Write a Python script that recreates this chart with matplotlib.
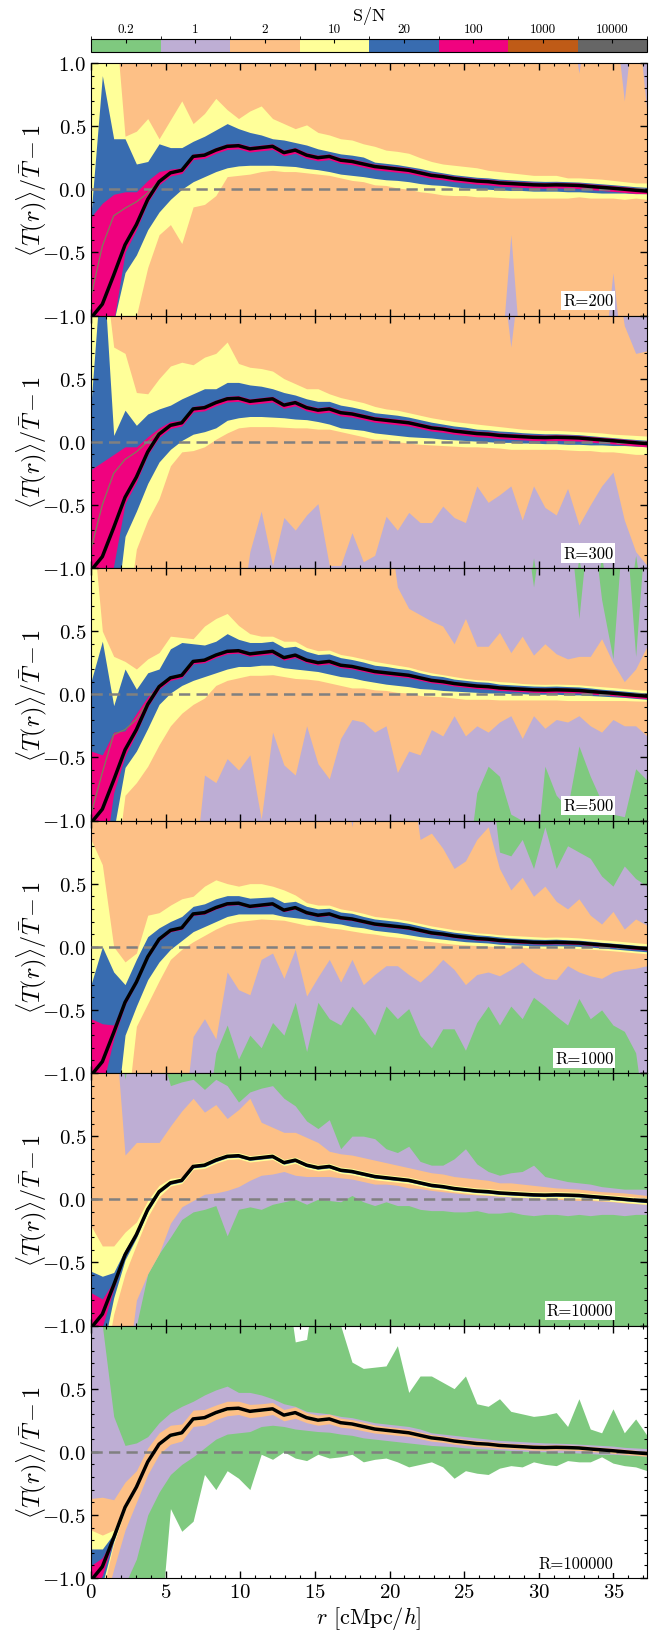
import numpy as np
import matplotlib
matplotlib.use("Agg")
import matplotlib.pyplot as plt
from matplotlib.colors import ListedColormap, BoundaryNorm
from matplotlib.cm import ScalarMappable
from matplotlib.ticker import MultipleLocator, FuncFormatter

plt.rcParams["font.family"] = "serif"
plt.rcParams["font.serif"] = ["cmr10"]
plt.rcParams["mathtext.fontset"] = "cm"
plt.rcParams["axes.formatter.use_mathtext"] = True

# radial bins [cMpc/h]
r = np.linspace(0.0, 37.25, 50)

# true mean profile (black line)
mean_curve = np.array([
    -1.02, -0.91, -0.68, -0.44, -0.28, -0.08, 0.06, 0.13, 0.15, 0.26,
    0.27, 0.31, 0.34, 0.345, 0.32, 0.33, 0.34, 0.29, 0.31, 0.27,
    0.25, 0.26, 0.23, 0.22, 0.20, 0.18, 0.17, 0.16, 0.15, 0.13,
    0.11, 0.10, 0.085, 0.075, 0.065, 0.06, 0.05, 0.045, 0.04, 0.035,
    0.033, 0.035, 0.033, 0.03, 0.022, 0.015, 0.008, 0.0, -0.008, -0.015])

sn_labels = ["0.2", "1", "2", "10", "20", "100", "1000", "10000"]
sn_colors = ["#7fc97f", "#beaed4", "#fdc086", "#ffff99",
             "#386cb0", "#f0027f", "#bf5b17", "#666666"]
panel_labels = ["R=200", "R=300", "R=500", "R=1000", "R=10000", "R=100000"]

FULL_UP = [1.5] * 50
FULL_LOW = [-1.5] * 50

########### R=200 #########
p1_peach_up = [1.5] * 43 + [0.92, 1.5, 1.5, 1.5, 0.70, 1.5, 0.60]
p1_peach_low = [-1.5] * 37 + [-0.36] + [-1.5] * 8 + [-0.66, -1.5, -1.5, -1.5]
p1_yel_up = [
    1.5, 1.5, 1.5, 0.42, 0.46, 0.56, 0.40, 0.55, 0.70, 0.52,
    0.60, 0.72, 0.63, 0.56, 0.62, 0.66, 0.56, 0.52, 0.48, 0.51,
    0.45, 0.43, 0.40, 0.39, 0.36, 0.34, 0.31, 0.30, 0.285, 0.25,
    0.22, 0.20, 0.19, 0.18, 0.17, 0.15, 0.14, 0.13, 0.12, 0.11,
    0.11, 0.11, 0.09, 0.09, 0.085, 0.08, 0.07, 0.06, 0.05, 0.05]
p1_yel_low = [
    -1.5, -1.5, -1.5, -1.5, -1.0, -0.62, -0.36, -0.28, -0.43, -0.14,
    -0.12, -0.05, 0.10, 0.11, 0.12, 0.14, 0.15, 0.14, 0.14, 0.13,
    0.12, 0.11, 0.09, 0.07, 0.06, 0.035, 0.03, 0.01, 0.0, -0.02,
    -0.03, -0.045, -0.05, -0.05, -0.06, -0.06, -0.065, -0.07, -0.07, -0.07,
    -0.07, -0.07, -0.07, -0.06, -0.07, -0.07, -0.07, -0.08, -0.07, -0.08]
p1_blue_up = [
    -0.2, 0.9, 0.40, 0.40, 0.20, 0.22, 0.36, 0.33, 0.33, 0.38,
    0.42, 0.47, 0.52, 0.48, 0.45, 0.43, 0.40, 0.39, 0.37, 0.35,
    0.32, 0.30, 0.28, 0.27, 0.255, 0.215, 0.205, 0.195, 0.18, 0.165,
    0.145, 0.13, 0.115, 0.105, 0.095, 0.09, 0.08, 0.075, 0.07, 0.065,
    0.062, 0.063, 0.06, 0.057, 0.05, 0.043, 0.036, 0.028, 0.02, 0.015]
p1_blue_low = [
    -1.5, -1.5, -1.05, -0.66, -0.52, -0.32, -0.18, -0.08, 0.0, 0.06,
    0.10, 0.14, 0.17, 0.185, 0.19, 0.19, 0.19, 0.185, 0.18, 0.165,
    0.155, 0.14, 0.12, 0.11, 0.10, 0.086, 0.075, 0.07, 0.06, 0.045,
    0.035, 0.03, 0.02, 0.01, 0.007, 0.0, -0.005, -0.01, -0.01, -0.015,
    -0.015, -0.015, -0.02, -0.02, -0.025, -0.03, -0.03, -0.03, -0.035, -0.035]
p1_mag_dup = [0.80, 0.80, 0.64, 0.42, 0.26, 0.15, 0.08, 0.03, 0.02] + [0.02] * 41
p1_mag_dlow = [0.5, 0.5, 0.4, 0.06, 0.04] + [0.025] * 45
p1_olive_head = [-0.85, -0.45, -0.21, -0.15, -0.10, -0.03, 0.07, 0.13, 0.15]

########### R=300 #########
p2_lav_low = [-1.5] * 39 + [-0.92] + [-1.5] * 3 + [-0.92, -1.5, -0.90, -1.5, -1.5, -0.90, -1.5]
p2_peach_up = [1.5] * 37 + [0.75] + [1.5] * 9 + [0.92, 0.70, 0.72]
p2_peach_low = [
    -1.5, -1.5, -1.5, -1.5, -1.5, -1.5, -1.5, -1.5, -1.5, -1.5,
    -1.5, -1.5, -1.5, -1.5, -0.87, -0.55, -0.98, -0.60, -0.70, -0.58,
    -0.49, -0.98, -0.98, -0.72, -0.95, -0.90, -0.59, -0.70, -0.56, -0.64,
    -0.64, -0.51, -0.60, -0.64, -0.35, -0.48, -0.42, -0.35, -0.62, -0.35,
    -0.52, -0.58, -0.37, -0.66, -0.50, -0.35, -0.24, -0.62, -0.87, -0.98]
p2_yel_up = [
    1.5, 1.5, 0.75, 0.70, 0.39, 0.38, 0.50, 0.60, 0.63, 0.61,
    0.67, 0.70, 0.79, 0.62, 0.59, 0.58, 0.56, 0.50, 0.46, 0.42,
    0.42, 0.38, 0.35, 0.33, 0.31, 0.28, 0.26, 0.25, 0.23, 0.21,
    0.19, 0.175, 0.16, 0.15, 0.14, 0.13, 0.12, 0.11, 0.10, 0.095,
    0.09, 0.09, 0.085, 0.08, 0.075, 0.07, 0.06, 0.055, 0.05, 0.045]
p2_yel_low = [
    -1.5, -1.5, -1.5, -1.5, -0.85, -0.62, -0.45, -0.19, -0.08, -0.07,
    -0.04, 0.02, 0.07, 0.11, 0.12, 0.12, 0.12, 0.115, 0.11, 0.11,
    0.10, 0.10, 0.08, 0.06, 0.04, 0.02, 0.02, 0.0, -0.01, -0.02,
    -0.025, -0.03, -0.035, -0.04, -0.04, -0.045, -0.05, -0.06, -0.06, -0.06,
    -0.06, -0.06, -0.065, -0.07, -0.07, -0.08, -0.08, -0.09, -0.10, -0.10]
p2_blue_up = [
    0.3, 1.5, 0.05, 0.25, 0.13, 0.22, 0.26, 0.29, 0.34, 0.38,
    0.42, 0.42, 0.47, 0.47, 0.45, 0.44, 0.42, 0.39, 0.37, 0.34,
    0.32, 0.32, 0.29, 0.275, 0.255, 0.23, 0.22, 0.21, 0.195, 0.175,
    0.155, 0.14, 0.125, 0.115, 0.10, 0.095, 0.085, 0.08, 0.072, 0.067,
    0.063, 0.063, 0.06, 0.056, 0.048, 0.04, 0.033, 0.025, 0.018, 0.012]
p2_blue_low = [
    -1.5, -1.5, -1.5, -0.75, -0.55, -0.33, -0.16, -0.06, 0.01, 0.06,
    0.08, 0.11, 0.17, 0.19, 0.20, 0.20, 0.195, 0.19, 0.18, 0.175,
    0.16, 0.14, 0.11, 0.10, 0.09, 0.07, 0.06, 0.05, 0.04, 0.035,
    0.03, 0.02, 0.015, 0.01, 0.005, 0.0, -0.005, -0.005, -0.01, -0.01,
    -0.015, -0.015, -0.02, -0.02, -0.025, -0.025, -0.03, -0.03, -0.035, -0.04]
p2_mag_dup = [0.80, 0.75, 0.58, 0.40, 0.24, 0.12, 0.05, 0.03] + [0.02] * 42
p2_mag_dlow = [0.5, 0.5, 0.3, 0.05, 0.04] + [0.025] * 45
p2_olive_head = [-0.85, -0.50, -0.25, -0.14, -0.08, 0.0, 0.08, 0.13, 0.16]

########### R=500 #########
p3_lav_up = [1.5] * 39 + [0.85, 1.5, 1.5, 1.5, 0.60, 1.5, 0.75, 0.28, 1.5, 0.30, 1.5]
p3_lav_low = [-1.5] * 34 + [
    -0.78, -0.57, -0.65, -0.95, -1.0, -1.5, -0.57, -0.80,
    -0.90, -0.41, -0.65, -0.85, -0.95, -0.97, -0.59, -0.68]
p3_peach_up = [1.5] * 27 + [
    0.85, 0.68, 0.63, 0.58, 0.54, 0.40, 0.60, 0.38, 0.38, 0.49, 0.33, 0.46,
    0.31, 0.40, 0.32, 0.28, 0.30, 0.30, 0.44, 0.25, 0.10, 0.20, 0.38]
p3_peach_low = [
    -1.5, -1.5, -1.5, -1.5, -1.5, -1.5, -1.5, -1.5, -1.5, -1.5,
    -0.64, -0.70, -0.51, -0.60, -0.48, -0.99, -0.30, -0.56, -0.64, -0.25,
    -0.55, -0.67, -0.35, -0.20, -0.22, -0.30, -0.25, -0.62, -0.45, -0.48,
    -0.28, -0.33, -0.17, -0.33, -0.25, -0.30, -0.22, -0.17, -0.35, -0.17,
    -0.27, -0.20, -0.22, -0.17, -0.25, -0.30, -0.20, -0.25, -0.25, -0.33]
p3_yel_dup = [
    2.5, 1.41, 0.98, 0.70, 0.48, 0.36, 0.27, 0.33, 0.30, 0.18,
    0.27, 0.29, 0.30, 0.20, 0.16, 0.13, 0.12, 0.13, 0.11, 0.10,
    0.095, 0.09, 0.085, 0.08, 0.08, 0.08, 0.075, 0.07, 0.065, 0.06,
    0.06, 0.055, 0.055, 0.05, 0.05, 0.05, 0.05, 0.05, 0.045, 0.045,
    0.045, 0.045, 0.045, 0.045, 0.045, 0.045, 0.045, 0.045, 0.045, 0.045]
p3_yel_dlow = [
    1.0, 1.0, 1.0, 0.36, 0.42, 0.49, 0.46, 0.38, 0.30, 0.34,
    0.30, 0.24, 0.23, 0.215, 0.17, 0.18, 0.185, 0.15, 0.185, 0.15,
    0.14, 0.17, 0.16, 0.17, 0.15, 0.145, 0.14, 0.145, 0.14, 0.14,
    0.125, 0.12, 0.115, 0.115, 0.105, 0.10, 0.095, 0.09, 0.085, 0.08,
    0.078, 0.08, 0.083, 0.08, 0.072, 0.065, 0.058, 0.05, 0.045, 0.04]
p3_blue_dup = [
    1.12, 1.33, 0.59, 0.64, 0.32, 0.25, 0.14, 0.23, 0.26, 0.14,
    0.12, 0.11, 0.14, 0.09, 0.09, 0.08, 0.08, 0.08, 0.07, 0.07,
    0.065, 0.06, 0.06, 0.055, 0.055, 0.05, 0.05, 0.045, 0.045, 0.04,
    0.04, 0.04, 0.035, 0.035, 0.035, 0.035, 0.03, 0.03, 0.03, 0.03,
    0.03, 0.03, 0.028, 0.028, 0.028, 0.025, 0.025, 0.025, 0.025, 0.025]
p3_blue_dlow = [
    1.0, 1.0, 0.40, 0.14, 0.17, 0.19, 0.14, 0.12, 0.08, 0.15,
    0.13, 0.14, 0.14, 0.125, 0.10, 0.10, 0.11, 0.08, 0.11, 0.08,
    0.07, 0.10, 0.09, 0.09, 0.09, 0.085, 0.09, 0.09, 0.09, 0.085,
    0.07, 0.07, 0.06, 0.055, 0.05, 0.05, 0.04, 0.04, 0.035, 0.035,
    0.033, 0.035, 0.038, 0.035, 0.032, 0.03, 0.028, 0.025, 0.025, 0.025]
p3_mag_dup = [0.57, 0.43, 0.38, 0.15, 0.13, 0.06, 0.025] + [0.015] * 43
p3_mag_dlow = [0.5, 0.5, 0.1, 0.05, 0.03] + [0.02] * 45
p3_olive_head = [-0.95, -0.62, -0.32, -0.28, -0.20, -0.06, 0.07]

########### R=1000 #########
p4_lav_up = [1.5] * 36 + [0.75, 0.72, 0.85, 0.62, 0.95, 0.62, 0.80,
                          0.75, 0.70, 0.56, 0.48, 0.64, 0.54, 0.48]
p4_lav_low = [
    -1.5, -1.5, -1.5, -1.5, -1.5, -1.5, -1.5, -1.5, -1.5, -1.5,
    -1.5, -0.84, -0.62, -0.89, -0.70, -0.80, -0.60, -0.70, -0.44, -0.83,
    -0.44, -0.57, -0.62, -0.47, -0.57, -0.70, -0.47, -0.57, -0.49, -0.70,
    -0.80, -0.65, -0.65, -0.82, -0.60, -0.47, -0.62, -0.47, -0.57, -0.40,
    -0.47, -0.55, -0.62, -0.41, -0.57, -0.50, -0.62, -0.67, -0.84, -1.5]
p4_peach_up = [1.5] * 23 + [0.95] + [1.5] * 5 + [
    0.85, 0.90, 0.78, 0.62, 0.68, 0.85, 0.95, 0.62, 0.45, 0.55, 0.40,
    0.48, 0.36, 0.30, 0.38, 0.25, 0.18, 0.28, 0.14, 0.22, 0.17]
p4_peach_low = [
    -1.5, -1.5, -1.5, -1.5, -1.5, -1.5, -1.5, -1.5, -1.5, -0.71,
    -0.57, -0.73, -0.20, -0.34, -0.38, -0.10, -0.05, -0.25, -0.02, -0.39,
    -0.24, -0.10, -0.28, -0.10, -0.30, -0.22, -0.15, -0.15, -0.22, -0.28,
    -0.20, -0.10, -0.18, -0.30, -0.22, -0.20, -0.23, -0.18, -0.12, -0.20,
    -0.25, -0.26, -0.15, -0.20, -0.23, -0.25, -0.20, -0.18, -0.17, -0.15]
p4_yel_dup = [
    1.87, 1.56, 0.68, 0.32, 0.23, 0.33, 0.21, 0.20, 0.23, 0.14,
    0.21, 0.22, 0.16, 0.135, 0.18, 0.17, 0.14, 0.16, 0.10, 0.08,
    0.08, 0.07, 0.07, 0.065, 0.065, 0.06, 0.06, 0.06, 0.055, 0.055,
    0.055, 0.05, 0.05, 0.05, 0.045, 0.045, 0.045, 0.045, 0.045, 0.045,
    0.042, 0.042, 0.042, 0.04, 0.04, 0.04, 0.04, 0.04, 0.04, 0.04]
p4_yel_dlow = [
    1.0, 1.0, 1.0, 1.0, 0.35, 0.37, 0.33, 0.23, 0.17, 0.22,
    0.18, 0.17, 0.16, 0.145, 0.11, 0.11, 0.125, 0.08, 0.12, 0.10,
    0.08, 0.11, 0.09, 0.095, 0.09, 0.08, 0.085, 0.085, 0.085, 0.08,
    0.07, 0.07, 0.065, 0.06, 0.055, 0.055, 0.05, 0.05, 0.045, 0.045,
    0.045, 0.045, 0.045, 0.045, 0.042, 0.04, 0.04, 0.04, 0.04, 0.04]
p4_blue_dup = [
    0.72, 0.91, 0.48, 0.14, 0.18, 0.16, 0.09, 0.07, 0.09, 0.06,
    0.07, 0.07, 0.065, 0.06, 0.065, 0.06, 0.055, 0.06, 0.05, 0.05,
    0.05, 0.045, 0.045, 0.045, 0.04, 0.04, 0.04, 0.04, 0.035, 0.035,
    0.035, 0.03, 0.03, 0.03, 0.03, 0.028, 0.028, 0.025, 0.025, 0.025,
    0.025, 0.025, 0.022, 0.022, 0.022, 0.02, 0.02, 0.02, 0.02, 0.02]
p4_blue_dlow = [
    1.0, 1.0, 1.0, 0.26, 0.19, 0.18, 0.18, 0.15, 0.10, 0.14,
    0.11, 0.11, 0.10, 0.085, 0.06, 0.07, 0.08, 0.05, 0.08, 0.05,
    0.05, 0.07, 0.05, 0.06, 0.05, 0.05, 0.05, 0.05, 0.055, 0.05,
    0.04, 0.04, 0.035, 0.035, 0.03, 0.03, 0.03, 0.03, 0.028, 0.028,
    0.027, 0.027, 0.027, 0.027, 0.025, 0.025, 0.025, 0.025, 0.025, 0.025]
p4_mag_dup = [0.45, 0.30, 0.06, 0.03] + [0.012] * 46
p4_mag_dlow = [0.5, 0.2, 0.05, 0.02] + [0.012] * 46

########### R=10000 #########
p5_lav_up = [
    1.5, 1.5, 1.5, 0.95, 1.5, 1.5, 1.2, 0.90, 0.93, 0.95,
    0.87, 0.95, 0.90, 0.77, 0.85, 0.88, 0.90, 0.80, 0.74, 0.62,
    0.56, 0.63, 0.40, 0.50, 0.50, 0.48, 0.40, 0.37, 0.42, 0.30,
    0.27, 0.27, 0.32, 0.40, 0.28, 0.22, 0.19, 0.21, 0.22, 0.27,
    0.18, 0.16, 0.14, 0.13, 0.12, 0.10, 0.09, 0.08, 0.08, 0.08]
p5_lav_low = [
    -1.5, -1.5, -1.5, -1.5, -1.0, -0.59, -0.43, -0.30, -0.16, -0.10,
    -0.08, -0.05, -0.29, -0.08, -0.06, -0.08, -0.04, -0.02, 0.0, -0.04,
    0.0, -0.01, -0.02, 0.03, -0.02, -0.05, -0.02, -0.05, -0.05, -0.08,
    -0.09, -0.09, -0.10, -0.10, -0.09, -0.11, -0.11, -0.10, -0.12, -0.13,
    -0.12, -0.12, -0.13, -0.12, -0.13, -0.12, -0.12, -0.13, -0.12, -0.12]
p5_peach_up = [
    1.5, 1.5, 1.5, 0.35, 0.45, 0.45, 0.45, 0.58, 0.70, 0.80,
    0.69, 0.75, 0.64, 0.71, 0.80, 0.61, 0.57, 0.53, 0.53, 0.49,
    0.45, 0.38, 0.36, 0.35, 0.33, 0.31, 0.29, 0.27, 0.25, 0.23,
    0.21, 0.20, 0.18, 0.17, 0.16, 0.15, 0.13, 0.13, 0.12, 0.11,
    0.10, 0.09, 0.085, 0.08, 0.07, 0.06, 0.055, 0.05, 0.04, 0.03]
p5_peach_low = [
    -1.5, -1.5, -1.5, -1.5, -0.80, -0.62, -0.45, -0.19, -0.06, -0.01,
    0.04, 0.05, 0.07, 0.10, 0.15, 0.19, 0.20, 0.22, 0.19, 0.18,
    0.18, 0.18, 0.17, 0.16, 0.14, 0.12, 0.12, 0.11, 0.09, 0.085,
    0.07, 0.06, 0.05, 0.04, 0.035, 0.03, 0.025, 0.02, 0.015, 0.01,
    0.0, 0.0, -0.005, -0.01, -0.01, -0.015, -0.02, -0.03, -0.035, -0.04]
p5_yel_dup = [0.81, 0.54, 0.31, 0.18, 0.10, 0.07, 0.05, 0.035] + [0.025] * 42
p5_yel_dlow = [0.5, 0.5, 0.23, 0.15, 0.08, 0.06, 0.04] + [0.025] * 43
p5_blue_dup = [0.45, 0.30, 0.10, 0.04, 0.025, 0.02] + [0.012] * 44
p5_blue_dlow = [0.5, 0.3, 0.10, 0.04, 0.025, 0.02] + [0.012] * 44
p5_mag_dup = [0.28, 0.12, 0.03] + [0.004] * 47
p5_mag_dlow = [0.2, 0.1, 0.03] + [0.004] * 47

########### R=100000 #########
p6_green_up = [
    1.5, 1.5, 1.5, 1.5, 1.5, 1.5, 1.5, 1.5, 1.5, 1.5,
    1.5, 1.5, 1.5, 1.5, 1.5, 1.5, 1.5, 1.5, 0.87, 0.89,
    1.5, 1.5, 1.0, 0.71, 0.66, 0.67, 0.68, 0.84, 0.47, 0.60,
    0.60, 0.55, 0.50, 0.60, 0.38, 0.36, 0.42, 0.32, 0.30, 0.28,
    0.29, 0.31, 0.20, 0.42, 0.18, 0.15, 0.34, 0.15, 0.26, 0.13]
p6_green_low = [
    -1.5, -1.5, -1.5, -1.5, -1.5, -1.5, -1.5, -0.45, -0.63, -0.55,
    -0.18, -0.30, -0.15, -0.21, -0.30, -0.02, -0.06, 0.0, -0.05, -0.07,
    -0.02, -0.05, -0.04, -0.02, -0.08, -0.06, -0.05, -0.08, -0.12, -0.10,
    -0.08, -0.12, -0.21, -0.15, -0.17, -0.18, -0.13, -0.11, -0.12, -0.08,
    -0.10, -0.11, -0.07, -0.08, -0.08, -0.04, -0.09, -0.11, -0.12, -0.15]
p6_lav_up = [
    1.5, 1.0, 0.28, 0.05, 0.07, 0.12, 0.23, 0.31, 0.36, 0.40,
    0.45, 0.49, 0.52, 0.47, 0.47, 0.45, 0.42, 0.38, 0.36, 0.32,
    0.31, 0.30, 0.28, 0.27, 0.25, 0.23, 0.22, 0.21, 0.20, 0.18,
    0.15, 0.14, 0.13, 0.12, 0.11, 0.10, 0.09, 0.085, 0.08, 0.075,
    0.07, 0.068, 0.065, 0.06, 0.055, 0.05, 0.045, 0.035, 0.03, 0.025]
p6_lav_low = [
    -1.5, -1.5, -1.5, -1.05, -0.85, -0.50, -0.32, -0.18, -0.10, -0.04,
    0.03, 0.10, 0.14, 0.15, 0.16, 0.20, 0.21, 0.20, 0.18, 0.17,
    0.16, 0.155, 0.14, 0.13, 0.11, 0.10, 0.09, 0.08, 0.07, 0.06,
    0.05, 0.045, 0.04, 0.03, 0.025, 0.02, 0.015, 0.01, 0.005, 0.0,
    0.0, -0.005, -0.005, -0.01, -0.015, -0.02, -0.02, -0.025, -0.03, -0.035]
p6_peach_dup = [
    0.65, 0.55, 0.30, 0.20, 0.13, 0.11, 0.09, 0.08, 0.07, 0.07,
    0.065, 0.06, 0.06, 0.055, 0.055, 0.05, 0.05, 0.045, 0.045, 0.04,
    0.04, 0.038, 0.036, 0.035, 0.034, 0.032, 0.03, 0.03, 0.028, 0.027,
    0.026, 0.025, 0.025, 0.024, 0.024, 0.023, 0.023, 0.022, 0.022, 0.022,
    0.021, 0.021, 0.02, 0.02, 0.02, 0.02, 0.02, 0.02, 0.02, 0.02]
p6_peach_dlow = [
    0.40, 0.35, 0.25, 0.18, 0.12, 0.10, 0.08, 0.07, 0.065, 0.06,
    0.06, 0.055, 0.055, 0.05, 0.05, 0.05, 0.045, 0.045, 0.045, 0.04,
    0.04, 0.038, 0.036, 0.035, 0.034, 0.032, 0.03, 0.03, 0.028, 0.027,
    0.026, 0.025, 0.025, 0.024, 0.024, 0.023, 0.023, 0.022, 0.022, 0.022,
    0.021, 0.021, 0.02, 0.02, 0.02, 0.02, 0.02, 0.02, 0.02, 0.02]
p6_yel_dup = [0.40, 0.25, 0.06, 0.025] + [0.01] * 46
p6_yel_dlow = [0.30, 0.20, 0.05, 0.02] + [0.01] * 46
p6_blue_dup = [0.25, 0.14, 0.03] + [0.004] * 47
p6_blue_dlow = [0.25, 0.14, 0.03] + [0.004] * 47
p6_mag_dup = [0.12, 0.07, 0.01] + [0.0] * 47
p6_mag_dlow = [0.12, 0.07, 0.01] + [0.0] * 47


def around(d_up, d_low):
    return mean_curve + np.array(d_up), mean_curve - np.array(d_low)


full = (FULL_UP, FULL_LOW)
panel_bands = [
    [full, full, (p1_peach_up, p1_peach_low), (p1_yel_up, p1_yel_low),
     (p1_blue_up, p1_blue_low), around(p1_mag_dup, p1_mag_dlow)],
    [full, (FULL_UP, p2_lav_low), (p2_peach_up, p2_peach_low), (p2_yel_up, p2_yel_low),
     (p2_blue_up, p2_blue_low), around(p2_mag_dup, p2_mag_dlow)],
    [full, (p3_lav_up, p3_lav_low), (p3_peach_up, p3_peach_low), around(p3_yel_dup, p3_yel_dlow),
     around(p3_blue_dup, p3_blue_dlow), around(p3_mag_dup, p3_mag_dlow)],
    [full, (p4_lav_up, p4_lav_low), (p4_peach_up, p4_peach_low), around(p4_yel_dup, p4_yel_dlow),
     around(p4_blue_dup, p4_blue_dlow), around(p4_mag_dup, p4_mag_dlow)],
    [full, (p5_lav_up, p5_lav_low), (p5_peach_up, p5_peach_low), around(p5_yel_dup, p5_yel_dlow),
     around(p5_blue_dup, p5_blue_dlow), around(p5_mag_dup, p5_mag_dlow)],
    [(p6_green_up, p6_green_low), (p6_lav_up, p6_lav_low), around(p6_peach_dup, p6_peach_dlow),
     around(p6_yel_dup, p6_yel_dlow), around(p6_blue_dup, p6_blue_dlow), around(p6_mag_dup, p6_mag_dlow)],
]
olive_heads = [p1_olive_head, p2_olive_head, p3_olive_head, None, None, None]


def draw_bands(ax, bands):
    # nested S/N regions, outermost first
    prev_up = np.array(FULL_UP)
    prev_low = np.array(FULL_LOW)
    for color, (up, low) in zip(sn_colors, bands):
        up = np.minimum(np.array(up, dtype=float), prev_up)
        low = np.maximum(np.array(low, dtype=float), prev_low)
        low = np.minimum(low, up)
        ax.fill_between(r, low, up, color=color, lw=0, zorder=1)
        prev_up, prev_low = up, low


def ytick_fmt(hide_top):
    def fmt(v, pos):
        if hide_top and v > 0.99:
            return ""
        return r"$\mathdefault{%.1f}$" % v
    return FuncFormatter(fmt)


fig = plt.figure(figsize=(6.67, 16.33), dpi=100)
W, H = 667.0, 1633.0
left, width = 91 / W, 556 / W
ph = 252.5 / H

for i in range(6):
    bottom = 1 - (64 + (i + 1) * 252.5) / H
    ax = fig.add_axes([left, bottom, width, ph])
    ax.set_facecolor("white")
    draw_bands(ax, panel_bands[i])
    if olive_heads[i] is not None:
        head = olive_heads[i]
        olive = np.concatenate([head, mean_curve[len(head):]])
        ax.plot(r, olive, color="#7f7d5a", lw=0.9, zorder=2)
    ax.axhline(0, color="#808080", ls=(0, (4.5, 2.5)), lw=1.8, zorder=3)
    ax.plot(r, mean_curve, color="k", lw=2.5, zorder=4)
    ax.text(35.0, -0.88, panel_labels[i], ha="right", va="center", fontsize=12,
            zorder=5, bbox=dict(facecolor="white", edgecolor="none", pad=1.5))
    ax.set_xlim(0, 37.25)
    ax.set_ylim(-1, 1)
    ax.xaxis.set_major_locator(MultipleLocator(5))
    ax.xaxis.set_minor_locator(MultipleLocator(1))
    ax.yaxis.set_major_locator(MultipleLocator(0.5))
    ax.yaxis.set_minor_locator(MultipleLocator(0.1))
    ax.yaxis.set_major_formatter(ytick_fmt(i > 0))
    ax.tick_params(which="both", direction="in", top=True, right=True, labelsize=15)
    ax.tick_params(which="major", length=5, width=1)
    ax.tick_params(which="minor", length=2.5, width=0.8)
    ax.set_ylabel(r"$\langle T(r)\rangle/\bar{T}-1$", fontsize=17.5, labelpad=-5)
    if i < 5:
        ax.tick_params(labelbottom=False)
    else:
        ax.set_xlabel(r"$r$ [cMpc/$h$]", fontsize=16, labelpad=2)

# S/N colour bar on top
cax = fig.add_axes([left, 1 - 52.7 / H, width, 12.7 / H])
cmap = ListedColormap(sn_colors)
norm = BoundaryNorm(np.arange(9), 8)
cb = fig.colorbar(ScalarMappable(norm=norm, cmap=cmap), cax=cax,
                  orientation="horizontal", ticks=np.arange(8) + 0.5)
cb.set_ticklabels(sn_labels)
cax.xaxis.set_ticks_position("top")
cax.xaxis.set_label_position("top")
cax.tick_params(labelsize=9.5, direction="in", length=3, pad=3)
cb.set_label("S/N", fontsize=13, labelpad=2)

fig.savefig("out.png", dpi=100)
